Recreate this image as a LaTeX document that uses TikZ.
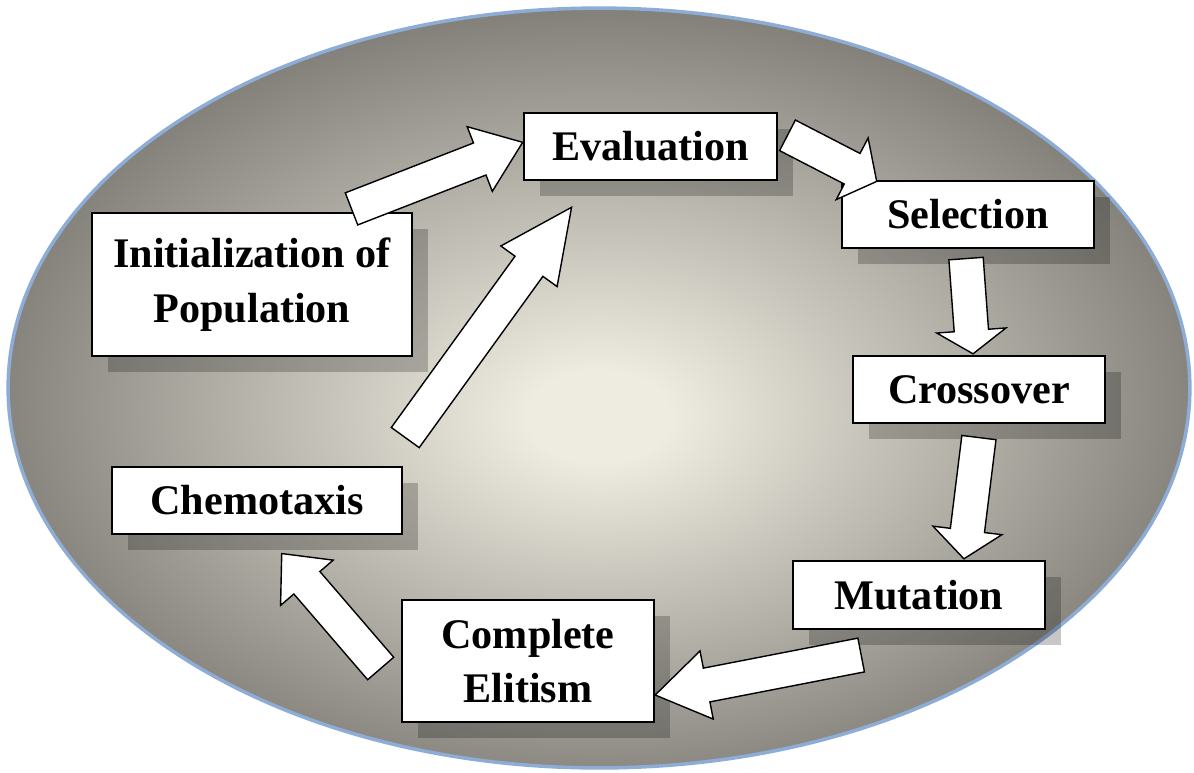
\documentclass[tikz,border=0pt]{standalone}
\usepackage{fontspec}
\setmainfont{Liberation Serif}
\usetikzlibrary{calc}
\usetikzlibrary{shadows}
\usetikzlibrary{shapes.arrows}

\definecolor{ringblue}{RGB}{141,172,214}
\definecolor{glowin}{RGB}{238,235,224}
\definecolor{glowout}{RGB}{116,114,108}

\pgfdeclareradialshading{glow}{\pgfpoint{0bp}{-2bp}}{%
    color(0bp)=(glowin); color(3bp)=(glowin);
    color(29bp)=(glowout); color(50bp)=(glowout)}

\tikzset{
    stage/.style={
        rectangle, draw=black, line width=1pt,
        fill=white, inner sep=0pt, align=center,
        font=\fontsize{24}{31}\selectfont\bfseries,
        drop shadow={shadow xshift=0.32cm, shadow yshift=-0.32cm,
            fill=black, opacity=0.22},
    },
    flow/.style={
        single arrow, draw=black, line width=0.8pt,
        fill=white, inner sep=0pt,
        text height=0.66cm, text depth=0pt,
        single arrow head extend=0.35cm,
    },
}

\newcommand{\flowarrow}[3]{%
    \path let \p1=($(#2)-(#1)$), \n1={veclen(\x1,\y1)}, \n2={atan2(\y1,\x1)} in
        node[flow, minimum height=\n1, rotate=\n2, single arrow tip angle=#3,
            anchor=tail] at (#1) {};%
}

\begin{document}
\begin{tikzpicture}[x=0.02cm, y=-0.02cm]
    \useasboundingbox (0,0) rectangle (1194,772);

    \path[shading=glow, draw=ringblue, line width=2pt]
        (599,388) ellipse [x radius=11.82cm, y radius=7.6cm];

    \node (eval) at(650.5,146.5) [
        stage, minimum width=5.06cm, minimum height=1.34cm,
    ] {Evaluation};
    \node (sel) at(968,214.5) [
        stage, minimum width=5.04cm, minimum height=1.34cm,
    ] {Selection};
    \node (cross) at(979,389.5) [
        stage, minimum width=5.04cm, minimum height=1.34cm,
    ] {Crossover};
    \node (mut) at(919,595) [
        stage, minimum width=5.04cm, minimum height=1.36cm,
    ] {Mutation};
    \node (elit) at(528,661) [
        stage, minimum width=5.04cm, minimum height=2.44cm,
    ] {Complete\\Elitism};
    \node (chemo) at(257,500.5) [
        stage, minimum width=5.8cm, minimum height=1.34cm,
    ] {Chemotaxis};
    \node (init) at(252,284.5) [
        stage, minimum width=6.4cm, minimum height=2.86cm,
    ] {Initialization of\\Population};

    % arrow ends
    \coordinate (a1s) at ($(init.north east)+(-62,-3)$);
    \coordinate (a1e) at ($(eval.west)+(-1,-4)$);
    \coordinate (a2s) at ($(eval.east)+(9,-11.5)$);
    \coordinate (a2e) at ($(sel.north west)+(35,1)$);
    \coordinate (a3s) at ($(sel.south)+(-2,9)$);
    \coordinate (a3e) at ($(cross.north)+(-6,-2)$);
    \coordinate (a4s) at ($(cross.south)+(0,13)$);
    \coordinate (a4e) at ($(mut.north)+(45,-2)$);
    \coordinate (a5s) at ($(mut.south east)+(-184,25)$);
    \coordinate (a5e) at ($(elit.south east)+(1,-28)$);
    \coordinate (a6s) at ($(elit.west)+(-20,8)$);
    \coordinate (a6e) at ($(chemo.south)+(25,19)$);
    \coordinate (a7s) at ($(chemo.north east)+(2,-28)$);
    \coordinate (a7e) at ($(eval.south west)+(48,27)$);

    \flowarrow{a1s}{a1e}{74}
    \flowarrow{a2s}{a2e}{103}
    \flowarrow{a3s}{a3e}{112}
    \flowarrow{a4s}{a4e}{101}
    \flowarrow{a5s}{a5e}{67}
    \flowarrow{a6s}{a6e}{84}
    \flowarrow{a7s}{a7e}{51}
\end{tikzpicture}
\end{document}
